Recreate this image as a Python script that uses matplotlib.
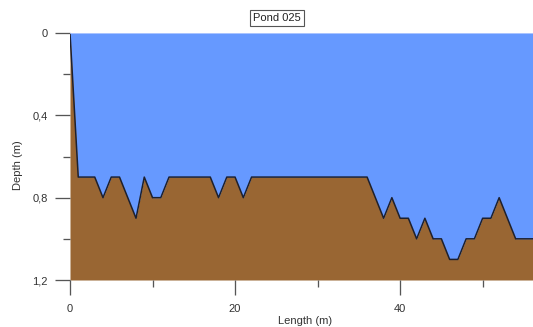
import matplotlib
matplotlib.use("Agg")
import matplotlib.pyplot as plt
from matplotlib.ticker import FixedLocator, FuncFormatter

# Pond bottom profile: distance along transect (m) and water depth (m)
length_m = [0, 1, 3, 4, 5, 6, 8, 9, 10, 11, 12, 17, 18, 19, 20, 21, 22,
            36, 38, 39, 40, 41, 42, 43, 44, 45, 46, 47, 48, 49, 50, 51, 52,
            54, 56.5]
depth_m = [0, 0.7, 0.7, 0.8, 0.7, 0.7, 0.9, 0.7, 0.8, 0.8, 0.7, 0.7, 0.8,
           0.7, 0.7, 0.8, 0.7, 0.7, 0.9, 0.8, 0.9, 0.9, 1.0, 0.9, 1.0, 1.0,
           1.1, 1.1, 1.0, 1.0, 0.9, 0.9, 0.8, 1.0, 1.0]

x_major = [0, 20, 40]
x_minor = [10, 30, 50]
y_major = [0, 0.4, 0.8, 1.2]
y_minor = [0.2, 0.6, 1.0]
title = "Pond 025"

plt.rcParams["font.family"] = ["Liberation Sans", "DejaVu Sans"]

W, H = 533, 327
PX = 72 / 100  # points per pixel at 100 dpi
fig = plt.figure(figsize=(W / 100, H / 100), dpi=100)
ax_l, ax_r, ax_t, ax_b = 70, 533, 33, 280
ax = fig.add_axes([ax_l / W, 1 - ax_b / H, (ax_r - ax_l) / W, (ax_b - ax_t) / H])

water = "#6699ff"
soil = "#996633"
bottom = 1.2

ax.fill_between(length_m, 0, depth_m, color=water, lw=0)
ax.fill_between(length_m, depth_m, bottom, color=soil, lw=0)
ax.plot(length_m, depth_m, color="#1c2030", lw=1.1)
ax.axhline(0, color="#a9c3ff", lw=1.2)

ax.set_xlim(0, 56.1)
ax.set_ylim(bottom, 0)

for s in ax.spines.values():
    s.set_visible(False)

tick_col = "#555555"
txt_col = "#333333"
fs = 8
ax.xaxis.set_major_locator(FixedLocator(x_major))
ax.xaxis.set_minor_locator(FixedLocator(x_minor))
ax.yaxis.set_major_locator(FixedLocator(y_major))
ax.yaxis.set_minor_locator(FixedLocator(y_minor))
ax.yaxis.set_major_formatter(FuncFormatter(lambda v, p: f"{v:g}".replace(".", ",")))
ax.tick_params(which="major", length=15 * PX, width=1.3 * PX, color=tick_col,
               labelsize=fs, labelcolor=txt_col)
ax.tick_params(which="minor", length=7 * PX, width=1.3 * PX, color=tick_col)
ax.tick_params(axis="x", which="major", pad=9 * PX)
ax.tick_params(axis="y", which="major", pad=7 * PX)

ax.set_xlabel("Length (m)", fontsize=fs, color=txt_col, va="center")
ax.set_ylabel("Depth (m)", fontsize=fs, color=txt_col, va="center")
ax.xaxis.set_label_coords((305 - ax_l) / (ax_r - ax_l), -(321 - ax_b) / (ax_b - ax_t))
ax.yaxis.set_label_coords(-(ax_l - 18) / (ax_r - ax_l), (ax_b - 165) / (ax_b - ax_t))

fig.text(277 / W, 1 - 18 / H, title, ha="center", va="center", fontsize=fs,
         color="#222222",
         bbox=dict(boxstyle="square,pad=0.3", fc="white", ec="#555555", lw=0.8))

fig.savefig("out.png", dpi=100)
